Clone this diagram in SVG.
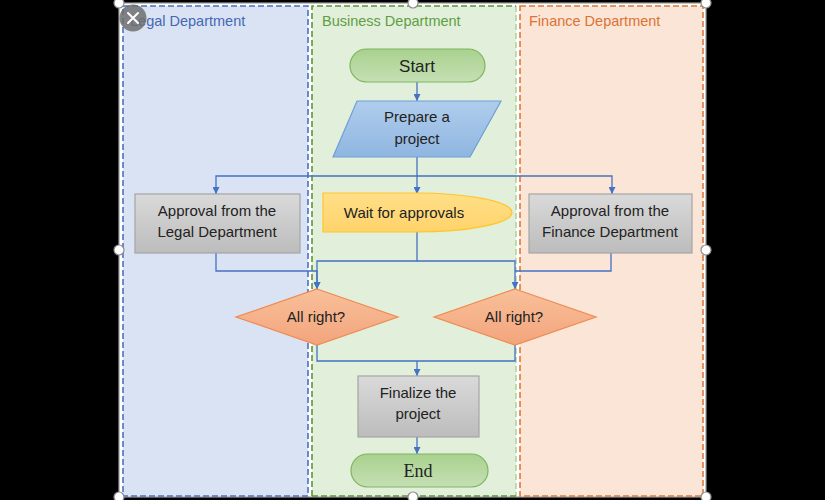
<svg xmlns="http://www.w3.org/2000/svg" width="825" height="500" viewBox="0 0 825 500">
<defs>
<style>
.lbl{font-family:"Liberation Sans","Open Sans",sans-serif;font-size:15px;fill:#222;text-anchor:middle}
.hdr{font-family:"Liberation Sans","Open Sans",sans-serif;font-size:14.5px}
.conn{fill:none;stroke:#4472c4;stroke-width:1.3}
.lane{stroke-width:1.6;stroke-dasharray:6 3}
.handle{fill:#fff;stroke:#8c8c8c;stroke-width:1.2}
</style>
<linearGradient id="gGreen" x1="0" y1="0" x2="0" y2="1"><stop offset="0" stop-color="#a9d18e"/><stop offset="1" stop-color="#c5e0b4"/></linearGradient>
<linearGradient id="gBlue" x1="0" y1="0" x2="0" y2="1"><stop offset="0" stop-color="#b0cdec"/><stop offset="1" stop-color="#8fb6e1"/></linearGradient>
<linearGradient id="gGray" x1="0" y1="0" x2="0" y2="1"><stop offset="0" stop-color="#dadada"/><stop offset="1" stop-color="#bcbcbc"/></linearGradient>
<linearGradient id="gYellow" x1="0" y1="0" x2="0" y2="1"><stop offset="0" stop-color="#ffdf88"/><stop offset="1" stop-color="#ffd36b"/></linearGradient>
<linearGradient id="gOrange" x1="0" y1="0" x2="0" y2="1"><stop offset="0" stop-color="#f8c09a"/><stop offset="1" stop-color="#f3a47c"/></linearGradient>
<marker id="arr" viewBox="0 0 10 10" refX="10" refY="5" markerWidth="7" markerHeight="7" markerUnits="userSpaceOnUse" orient="auto"><path d="M0,0 L10,5 L0,10 Z" fill="#4472c4"/></marker>
</defs>
<rect x="0" y="0" width="825" height="500" fill="#000"/>
<rect x="119" y="3" width="587" height="494" fill="#fff" stroke="#9a9a9a" stroke-width="1.2"/>

<g id="lane-legal">
<rect class="lane" x="123" y="6" width="185" height="490" fill="#dae3f3" stroke="#4a72c0"/>
<text class="hdr" x="130" y="26" fill="#4468b4">Legal Department</text>
</g>
<g id="lane-business">
<rect x="312" y="6" width="204" height="490" fill="#e2efda" stroke="none"/>
<path class="lane" d="M516,6 V496" fill="none" stroke="#b5d3a3"/>
<path class="lane" d="M312,496 V6 H516 M312,496 H516" fill="none" stroke="#5f9538"/>
<text class="hdr" x="322" y="26" fill="#5f9e45">Business Department</text>
</g>
<g id="lane-finance">
<rect class="lane" x="520" y="6" width="183" height="490" fill="#fbe5d6" stroke="#e0793a"/>
<text class="hdr" x="529" y="26" fill="#dd7233">Finance Department</text>
</g>

<g id="connectors">
<path class="conn" d="M417,82 V101" marker-end="url(#arr)"/>
<path class="conn" d="M417,157 V194" marker-end="url(#arr)"/>
<path class="conn" d="M417,176 H216 V194" marker-end="url(#arr)"/>
<path class="conn" d="M417,176 H612 V194" marker-end="url(#arr)"/>
<path class="conn" d="M216,253 V271 H317 V289" marker-end="url(#arr)"/>
<path class="conn" d="M417,230 V261 H317 V289" marker-end="url(#arr)"/>
<path class="conn" d="M417,261 H515 V289" marker-end="url(#arr)"/>
<path class="conn" d="M611,253 V271 H515"/>
<path class="conn" d="M317,345 V361 H515 V345" stroke="#6f95d2" stroke-width="1"/>
<path class="conn" d="M417,361 V376" marker-end="url(#arr)"/>
<path class="conn" d="M417,437 V454" marker-end="url(#arr)"/>
</g>

<g id="start">
<rect x="350" y="49" width="135" height="33" rx="16.5" fill="url(#gGreen)" stroke="#7fb55e" stroke-width="1.2"/>
<text class="lbl" x="417" y="72" style="font-size:17px">Start</text>
</g>
<g id="prepare">
<path d="M357,101 H501 L470,157 H333 Z" fill="url(#gBlue)" stroke="#6f9fd8" stroke-width="1.2"/>
<text class="lbl" x="417" y="122">Prepare a</text>
<text class="lbl" x="417" y="144">project</text>
</g>
<g id="legal-approval">
<rect x="135" y="194" width="165" height="59" fill="url(#gGray)" stroke="#a5a5a5" stroke-width="1.2"/>
<text class="lbl" x="217" y="216">Approval from the</text>
<text class="lbl" x="217" y="237">Legal Department</text>
</g>
<g id="wait">
<path d="M323,193 H415 A97,19.5 0 0 1 415,232 H323 Z" fill="url(#gYellow)" stroke="#ffc62a" stroke-width="1.2"/>
<text class="lbl" x="404" y="218">Wait for approvals</text>
</g>
<g id="finance-approval">
<rect x="529" y="194" width="163" height="59" fill="url(#gGray)" stroke="#a5a5a5" stroke-width="1.2"/>
<text class="lbl" x="610" y="216">Approval from the</text>
<text class="lbl" x="610" y="237">Finance Department</text>
</g>
<g id="check-legal">
<path d="M317,289 L398,317 L317,345 L236,317 Z" fill="url(#gOrange)" stroke="#ef8a52" stroke-width="1.2"/>
<text class="lbl" x="316" y="322">All right?</text>
</g>
<g id="check-finance">
<path d="M515,289 L596,317 L515,345 L434,317 Z" fill="url(#gOrange)" stroke="#ef8a52" stroke-width="1.2"/>
<text class="lbl" x="514" y="322">All right?</text>
</g>
<g id="finalize">
<rect x="358" y="376" width="121" height="61" fill="url(#gGray)" stroke="#a5a5a5" stroke-width="1.2"/>
<text class="lbl" x="418" y="398">Finalize the</text>
<text class="lbl" x="418" y="419">project</text>
</g>
<g id="end">
<rect x="351" y="454" width="137" height="33" rx="16.5" fill="url(#gGreen)" stroke="#7fb55e" stroke-width="1.2"/>
<text x="418" y="477" style="font-family:'Liberation Serif','DejaVu Serif',serif;font-size:18px;fill:#222;text-anchor:middle">End</text>
</g>

<g id="selection">
<circle class="handle" cx="119" cy="3" r="5"/>
<circle class="handle" cx="413" cy="3" r="5"/>
<circle class="handle" cx="706" cy="3" r="5"/>
<circle class="handle" cx="119" cy="250" r="5"/>
<circle class="handle" cx="706" cy="250" r="5"/>
<circle class="handle" cx="119" cy="497" r="5"/>
<circle class="handle" cx="413" cy="497" r="5"/>
<circle class="handle" cx="706" cy="497" r="5"/>
<circle cx="133" cy="18" r="13.5" fill="#6e6e6e" fill-opacity="0.85"/>
<path d="M128,13 L138,23 M138,13 L128,23" stroke="#fff" stroke-width="2" stroke-linecap="round"/>
</g>
</svg>
